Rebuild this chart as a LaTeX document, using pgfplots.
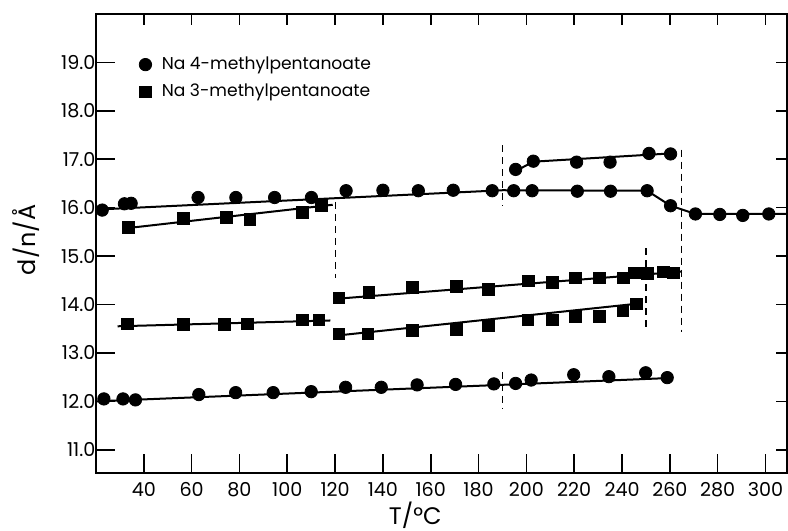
\documentclass[border=0pt]{standalone}
\usepackage{pgfplots}
\pgfplotsset{compat=1.18}
\usepackage{fontspec}
\setmainfont{Poppins}
\newcommand{\fsz}{\fontsize{9.6}{11}\selectfont}
\newcommand{\flg}{\fontsize{8.6}{10}\selectfont}
\newcommand{\flab}{\fontsize{12}{14}\selectfont}
\begin{document}
\begin{tikzpicture}
\useasboundingbox (-48bp,-29bp) rectangle (346bp,236.5bp);
\pgfplotsset{
  common/.style={
    scale only axis, width=345.5bp, height=229.5bp,
    xmin=20, xmax=309, ymin=10.52, ymax=20,
    xtick={40,60,...,300}, ytick={11,12,...,19},
    axis line style={line width=1.3bp},
    major tick style={line width=0.8bp, black},
    tick align=inside,
    clip=false,
  }
}
\begin{axis}[common,
  at={(0,0)}, anchor=south west,
  xtick pos=bottom, ytick pos=left,
  major tick length=9.5bp,
  yticklabels={11.0,12.0,13.0,14.0,15.0,16.0,17.0,18.0,19.0},
  /pgf/number format/assume math mode=true,
  tick label style={font=\fsz},
  yticklabel style={xshift=3.2bp},
  xticklabel style={yshift=-1bp},
  xlabel={T/°C}, ylabel={d/n/Å},
  label style={font=\flab},
  xlabel style={at={(axis description cs:0.462,-0.092)}, anchor=center},
  ylabel style={at={(axis description cs:-0.101,0.508)}, anchor=center},
  legend style={draw=none, fill=none, font=\flg,
    at={(axis description cs:0.062,0.912)}, anchor=north west,
    row sep=3.8bp, inner sep=0pt, nodes={inner sep=1pt}},
  legend cell align=left,
  legend image code/.code={\draw[#1] plot coordinates {(0.1cm,0cm)}; \path[draw=none,fill=none] (0cm,0cm) rectangle (10bp,0.1bp);},
]
% circles
\addplot[only marks, mark=*, mark size=3.1bp, black] coordinates {
(22.6,15.95)(31.9,16.08)(34.7,16.09)(62.7,16.21)(78.5,16.21)(94.7,16.21)(110.1,16.21)
(124.6,16.35)(140.0,16.36)(154.8,16.35)(169.4,16.36)(185.7,16.35)(194.7,16.35)(202.4,16.35)
(221.3,16.34)(235.2,16.34)(250.5,16.35)(260.3,16.04)(270.7,15.87)(280.9,15.86)(290.5,15.84)(301.4,15.87)
(195.5,16.79)(202.9,16.96)(221.0,16.94)(235.0,16.94)(251.3,17.12)(260.3,17.11)
(23.3,12.05)(31.3,12.05)(36.5,12.03)(63.0,12.14)(78.4,12.18)(94.1,12.18)(110.0,12.20)
(124.4,12.29)(139.3,12.29)(154.3,12.34)(170.4,12.35)(186.4,12.36)(195.5,12.37)(202.0,12.44)
(219.8,12.55)(234.5,12.51)(249.9,12.59)(258.9,12.49)
};
\addlegendentry{Na 4-methylpentanoate}
% squares
\addplot[only marks, mark=square*, mark size=2.9bp, black] coordinates {
(33.5,15.59)(56.5,15.78)(74.6,15.80)(84.3,15.76)(106.2,15.90)(114.3,16.05)
(33.1,13.60)(56.5,13.59)(73.8,13.59)(83.2,13.60)(106.2,13.68)(113.2,13.68)
(121.6,14.14)(134.1,14.25)(152.3,14.35)(170.7,14.37)(184.2,14.31)(200.8,14.49)(210.9,14.46)
(220.5,14.55)(230.6,14.55)(240.6,14.55)(245.2,14.65)(250.6,14.64)(257.3,14.67)(261.5,14.65)
(121.6,13.39)(133.7,13.39)(152.3,13.47)(170.7,13.49)(184.2,13.56)(200.6,13.68)(210.8,13.68)
(220.5,13.75)(230.6,13.75)(240.4,13.87)(246.0,14.01)
};
\addlegendentry{Na 3-methylpentanoate}
% fitted lines
\addplot[black, line width=1bp, forget plot] coordinates {(20,15.96)(190,16.36)(250.5,16.35)(260.3,16.04)(270.7,15.87)(309,15.87)};
\addplot[black, line width=1bp, forget plot] coordinates {(194,16.72)(203,16.95)(260.3,17.12)};
\addplot[black, line width=1bp, forget plot] coordinates {(20,12.0)(259,12.48)};
\addplot[black, line width=1bp, forget plot] coordinates {(33.5,15.58)(119,16.06)};
\addplot[black, line width=1bp, forget plot] coordinates {(29,13.55)(118,13.67)};
\addplot[black, line width=1bp, forget plot] coordinates {(121,14.12)(265,14.68)};
\addplot[black, line width=1bp, forget plot] coordinates {(121,13.36)(247,14.02)};
% dashed transition lines
\addplot[black, line width=0.6bp, dash pattern=on 3.5bp off 2.5bp, forget plot] coordinates {(120,16.12)(120,14.54)};
\addplot[black, line width=0.6bp, dash pattern=on 3.5bp off 2.5bp, forget plot] coordinates {(190,17.29)(190,16.05)};
\addplot[black, line width=0.6bp, dash pattern=on 3.5bp off 2.5bp, forget plot] coordinates {(190,12.61)(190,11.85)};
\addplot[black, line width=0.6bp, dash pattern=on 3.5bp off 2.5bp, forget plot] coordinates {(250,15.16)(250,13.48)};
\addplot[black, line width=0.6bp, dash pattern=on 3.5bp off 2.5bp, forget plot] coordinates {(265,17.2)(265,13.44)};
\end{axis}
\begin{axis}[common,
  at={(0,0)}, anchor=south west,
  xtick pos=top, ytick pos=right,
  major tick length=5.5bp,
  xticklabels={}, yticklabels={},
]
\end{axis}
\end{tikzpicture}
\end{document}
